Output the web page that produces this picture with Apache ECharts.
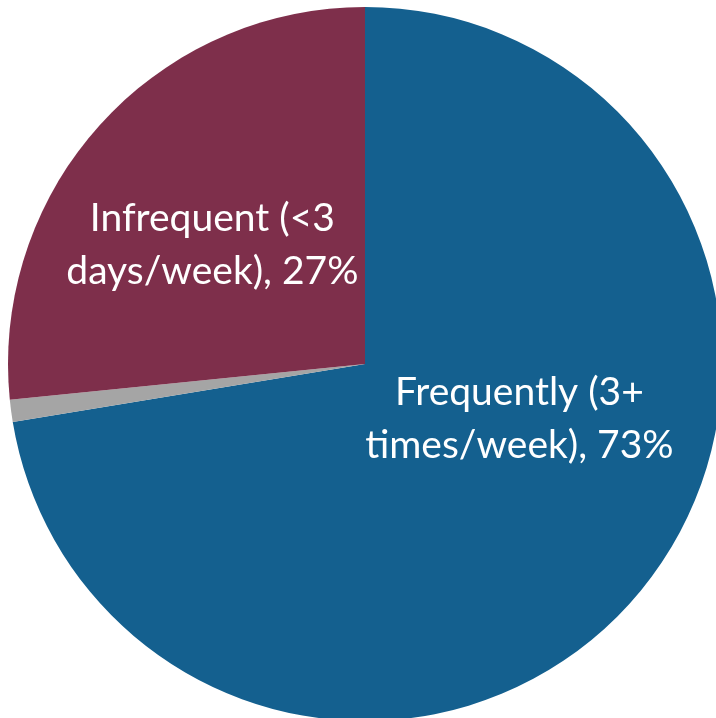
<!DOCTYPE html>
<html><head><meta charset="utf-8">
<script src="https://cdn.jsdelivr.net/npm/echarts@6/dist/echarts.min.js"></script>
<style>html,body{margin:0;padding:0;background:#fff}#c{width:716px;height:718px}</style>
</head><body><div id="c"></div>
<script>
var categories = ['Frequently (3+\ntimes/week)', 'Other', 'Infrequent (<3\ndays/week)'];
var values = [72.4, 1.0, 26.6];
var shownPct = ['73%', '', '27%'];
var colors = ['#14608F', '#A5A5A5', '#7E2F4B'];
var labelShift = [[16, -63], [0, 0], [-18, 3]];

var chart = echarts.init(document.getElementById('c'), null, {renderer: 'canvas'});
chart.setOption({
  animation: false,
  series: [{
    type: 'pie',
    center: [365, 364],
    radius: [0, 357],
    startAngle: 90,
    clockwise: true,
    avoidLabelOverlap: false,
    data: categories.map(function (c, i) {
      return {
        name: c, value: values[i],
        itemStyle: {color: colors[i]},
        label: {show: shownPct[i] !== ''}
      };
    }),
    label: {
      position: 'inside',
      color: '#ffffff',
      fontFamily: 'Lato',
      fontSize: 39,
      lineHeight: 53,
      align: 'center',
      formatter: function (p) { return p.name + ', ' + shownPct[p.dataIndex]; }
    },
    labelLine: {show: false},
    labelLayout: function (p) {
      return {dx: labelShift[p.dataIndex][0], dy: labelShift[p.dataIndex][1]};
    },
    emphasis: {disabled: true}
  }]
});
</script></body></html>
